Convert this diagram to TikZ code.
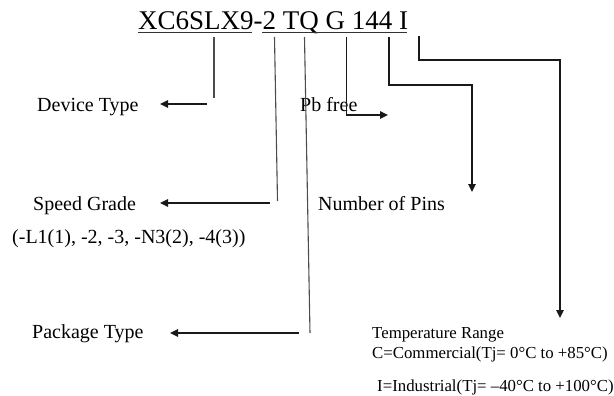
\documentclass[tikz,border=0pt]{standalone}
\usepackage{fontspec}
\setmainfont{Liberation Serif}
\usetikzlibrary{arrows.meta}
\begin{document}
\begin{tikzpicture}[x=1pt,y=-1pt,
  lbl/.style={inner sep=0pt,anchor=base west,font=\fontsize{20}{24}\selectfont},
  small/.style={inner sep=0pt,anchor=base west,font=\fontsize{16.8}{20}\selectfont},
  lead/.style={line width=1.1pt,draw=black!70},
  arr/.style={line width=1.3pt,draw=black!90,-{Triangle[length=8pt,width=7.5pt]}},
  uline/.style={line width=1pt,draw=black!80}]
\useasboundingbox (0,0) rectangle (614,396);
% part number
\node[inner sep=0pt,anchor=base west,font=\fontsize{27}{30}\selectfont] (code) at (138,30) {XC6SLX9-2 TQ G 144 I};
\coordinate (u1a) at (138,32.5); \coordinate (u1b) at (252,32.5);
\coordinate (u2a) at (262,32.5); \coordinate (u2b) at (407,32.5);
\draw[uline] (u1a) -- (u1b);
\draw[uline] (u2a) -- (u2b);
% labels
\node[lbl] (dev) at (37,112) {Device Type};
\node[lbl] (pb) at (300,112) {Pb free};
\node[lbl] (spd) at (33,210) {Speed Grade};
\node[lbl] (pins) at (318,210) {Number of Pins};
\node[lbl] (spdv) at (12,243) {(-L1(1), -2, -3, -N3(2), -4(3))};
\node[lbl] (pkg) at (32,338) {Package Type};
\node[small] (tr) at (372,338) {Temperature Range};
\node[small] (tc) at (372,358) {C=Commercial(Tj= 0°C to +85°C)};
\node[small] (ti) at (377,391) {I=Industrial(Tj= –40°C to +100°C)};
% device type
\coordinate (d0) at (214,37); \coordinate (d1) at (214,98);
\coordinate (d2) at (207,104); \coordinate (d3) at (160,104);
\draw[lead] (d0) -- (d1);
\draw[arr] (d2) -- (d3);
% speed grade
\coordinate (s0) at (274.5,37); \coordinate (s1) at (277.5,201);
\coordinate (s2) at (270,203); \coordinate (s3) at (160,203);
\draw[lead] (s0) -- (s1);
\draw[arr] (s2) -- (s3);
% package type
\coordinate (p0) at (304.5,37); \coordinate (p1) at (310,333);
\coordinate (p2) at (299,333); \coordinate (p3) at (170,333);
\draw[lead] (p0) -- (p1);
\draw[arr] (p2) -- (p3);
% pb free
\coordinate (b0) at (346.5,37); \coordinate (b1) at (346.5,115);
\coordinate (b2) at (388,115);
\draw[arr] (b0) -- (b1) -- (b2);
% number of pins
\coordinate (n0) at (389,37); \coordinate (n1) at (389,85);
\coordinate (n2) at (472,85); \coordinate (n3) at (472,192);
\draw[arr] (n0) -- (n1) -- (n2) -- (n3);
% temperature
\coordinate (t0) at (419,36); \coordinate (t1) at (419,60);
\coordinate (t2) at (560,60); \coordinate (t3) at (560,318);
\draw[arr] (t0) -- (t1) -- (t2) -- (t3);
\end{tikzpicture}
\end{document}
